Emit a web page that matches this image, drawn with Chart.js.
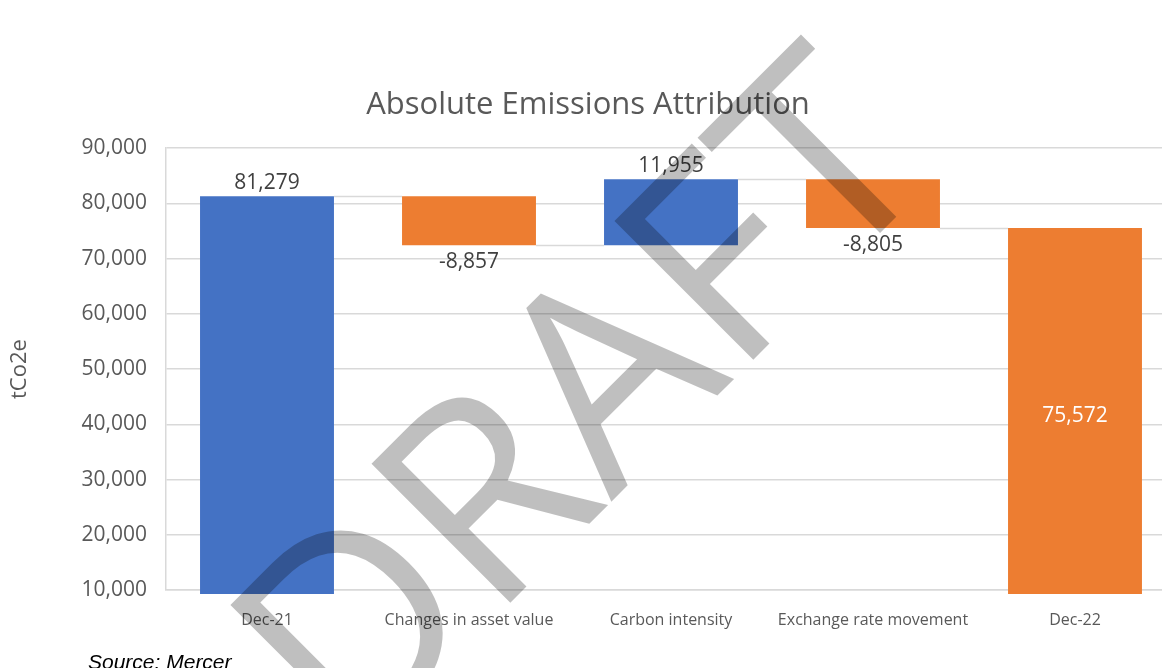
<!DOCTYPE html>
<html>
<head>
<meta charset="utf-8">
<script src="https://cdn.jsdelivr.net/npm/chart.js@4.4.0/dist/chart.umd.min.js"></script>
<style>
	html, body { margin: 0; padding: 0; background: #fff; overflow: hidden; }
	#wrap { width: 1162px; height: 668px; position: relative; overflow: hidden; }
</style>
</head>
<body>
<div id="wrap"><canvas id="emissions-chart" width="1180" height="668"></canvas></div>
<script>
const categories = ['Dec-21', 'Changes in asset value', 'Carbon intensity', 'Exchange rate movement', 'Dec-22'];
const changes = [81279, -8857, 11955, -8805, 75572];
const isTotal = [true, false, false, false, true];
const yTicks = [10000, 20000, 30000, 40000, 50000, 60000, 70000, 80000, 90000];

const barColors = ['#4472C4', '#ED7D31', '#4472C4', '#ED7D31', '#ED7D31'];
const textGrey = '#595959';
const gridGrey = '#d9d9d9';

// build floating [start, end] ranges for the waterfall
let running = 0;
const ranges = changes.map((v, i) => {
	let r;
	if (isTotal[i]) {
		r = [0, v];
		running = v;
	} else {
		r = [running, running + v];
		running += v;
	}
	return r;
});

const fmt = (v) => v.toLocaleString('en-US');

const waterfallExtras = {
	id: 'waterfallExtras',
	afterDatasetsDraw: (chart) => {
		const ctx = chart.ctx;
		const y = chart.scales.y;
		const bars = chart.getDatasetMeta(0).data;
		const area = chart.chartArea;

		// connector lines between neighbouring bars
		ctx.save();
		ctx.strokeStyle = gridGrey;
		ctx.lineWidth = 1.5;
		for (let i = 0; i < bars.length - 1; i++) {
			const level = ranges[i][1];
			const py = Math.round(y.getPixelForValue(level)) + 0.5;
			ctx.beginPath();
			ctx.moveTo(bars[i].x + bars[i].width / 2, py);
			ctx.lineTo(bars[i + 1].x - bars[i + 1].width / 2, py);
			ctx.stroke();
		}
		ctx.restore();

		// data labels
		ctx.save();
		ctx.font = '21px "Open Sans"';
		ctx.textAlign = 'center';
		ctx.textBaseline = 'alphabetic';
		bars.forEach((bar, i) => {
			const top = y.getPixelForValue(Math.max(ranges[i][0], ranges[i][1]));
			const bottom = Math.min(y.getPixelForValue(Math.min(ranges[i][0], ranges[i][1])), area.bottom);
			const v = changes[i];
			if (i === bars.length - 1) {
				ctx.fillStyle = '#ffffff';
				ctx.fillText(fmt(v), bar.x, (top + bottom) / 2 + 13);
			} else if (v < 0) {
				ctx.fillStyle = '#404040';
				ctx.fillText(fmt(v), bar.x, bottom + 23);
			} else {
				ctx.fillStyle = '#404040';
				ctx.fillText(fmt(v), bar.x, top - 7);
			}
		});
		ctx.restore();
	},
	afterDraw: (chart) => {
		const ctx = chart.ctx;
		// source note
		ctx.save();
		ctx.font = 'italic 21px "Liberation Sans"';
		ctx.fillStyle = '#000000';
		ctx.textAlign = 'left';
		ctx.textBaseline = 'alphabetic';
		ctx.fillText('Source: Mercer', 88, 669);
		ctx.restore();

		// draft watermark
		ctx.save();
		ctx.translate(646, 467);
		ctx.rotate(-Math.PI / 4);
		ctx.font = '275px "Open Sans"';
		ctx.fillStyle = 'rgba(0, 0, 0, 0.25)';
		ctx.textAlign = 'center';
		ctx.textBaseline = 'alphabetic';
		ctx.fillText('DRAFT', 0, 0);
		ctx.restore();
	}
};

document.addEventListener('DOMContentLoaded', () => {
	const ctx = document.getElementById('emissions-chart');
	new Chart(ctx, {
		type: 'bar',
		data: {
			labels: categories,
			datasets: [{
				data: ranges,
				backgroundColor: barColors,
				borderWidth: 0,
				barPercentage: 0.663,
				categoryPercentage: 1,
				clip: { left: 0, top: 0, right: 0, bottom: 4 }
			}]
		},
		options: {
			responsive: false,
			animation: false,
			devicePixelRatio: 1,
			layout: {
				padding: { left: 0, right: 4, top: 0, bottom: 38 }
			},
			plugins: {
				legend: { display: false },
				tooltip: { enabled: false },
				title: {
					display: true,
					text: 'Absolute Emissions Attribution',
					color: textGrey,
					font: { family: 'Open Sans', size: 31, weight: 'normal' },
					padding: { top: 87, bottom: 24 }
				}
			},
			scales: {
				x: {
					grid: { display: false, drawTicks: false },
					border: { display: true, color: gridGrey, width: 1.5 },
					ticks: {
						color: textGrey,
						font: { family: 'Open Sans', size: 16 },
						padding: 21,
						maxRotation: 0,
						autoSkip: false
					},
					afterFit: (s) => { s.height = 40; }
				},
				y: {
					min: yTicks[0],
					max: yTicks[yTicks.length - 1],
					afterBuildTicks: (s) => { s.ticks = yTicks.map(v => ({ value: v })); },
					grid: { color: gridGrey, lineWidth: 1.5, drawTicks: false },
					border: { display: true, color: gridGrey, width: 1.5 },
					ticks: {
						color: textGrey,
						font: { family: 'Open Sans', size: 21 },
						padding: 19,
						callback: (v) => fmt(v)
					},
					title: {
						display: true,
						text: 'tCo2e',
						color: textGrey,
						font: { family: 'Open Sans', size: 22 },
						padding: { top: 7, bottom: 0 }
					},
					afterFit: (s) => { s.width = 166; }
				}
			}
		},
		plugins: [waterfallExtras]
	});
});
</script>
</body>
</html>
